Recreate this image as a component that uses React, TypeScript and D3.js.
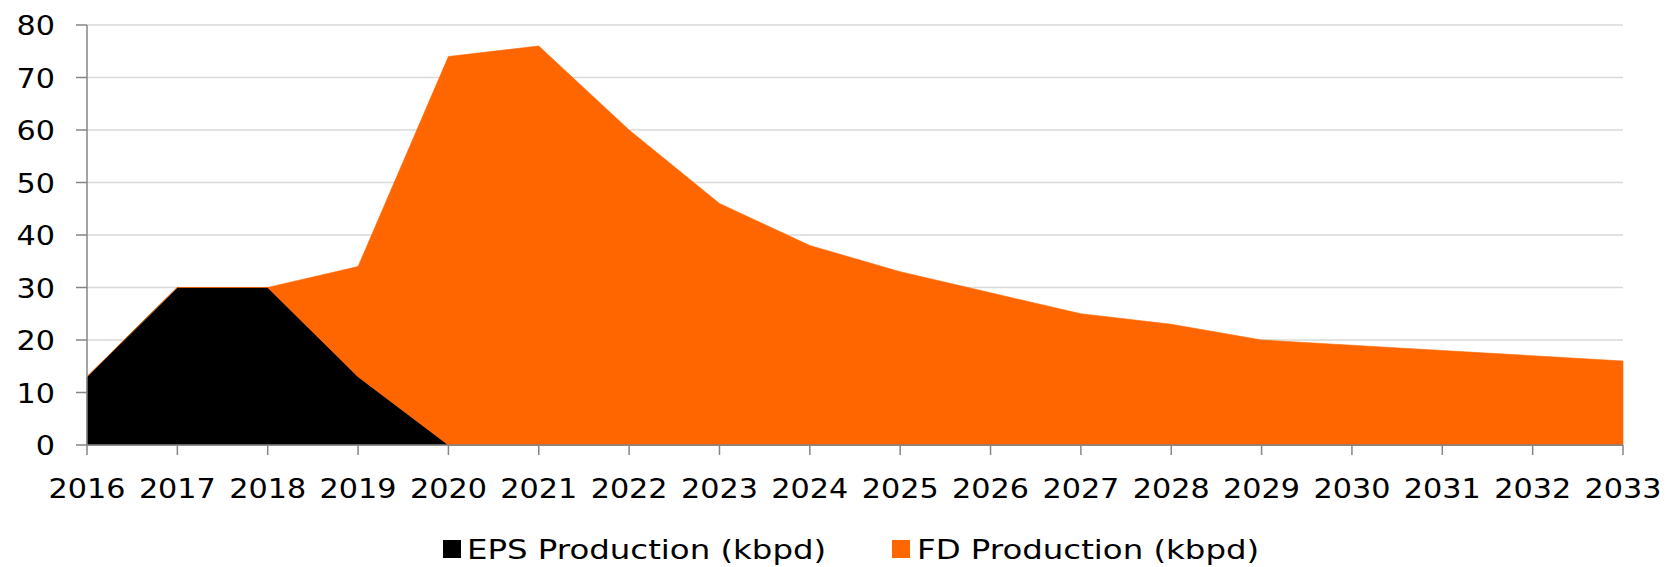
import React from "react";
import * as d3 from "d3";

const years = [2016, 2017, 2018, 2019, 2020, 2021, 2022, 2023, 2024, 2025, 2026, 2027, 2028, 2029, 2030, 2031, 2032, 2033];
const epsProduction = [13, 30, 30, 13, 0, 0, 0, 0, 0, 0, 0, 0, 0, 0, 0, 0, 0, 0];
const fdProduction = [0, 0, 0, 21, 74, 76, 60, 46, 38, 33, 29, 25, 23, 20, 19, 18, 17, 16];
const yTicks = [0, 10, 20, 30, 40, 50, 60, 70, 80];
const seriesNames = ["EPS Production (kbpd)", "FD Production (kbpd)"];
const seriesColors = ["#000000", "#FF6600"];

const W = 1667;
const H = 567;
const left = 87;
const right = 1623;
const top = 25;
const bottom = 445;
const font = "'DejaVu Sans', Verdana, sans-serif";
const sx = 1.12; // text in the source looks a bit wider than DejaVu

const App = () => {
    const rows = years.map((y, i) => ({year: y, eps: epsProduction[i], fd: fdProduction[i]}));
    const stacked = d3.stack<any>().keys(["eps", "fd"])(rows);

    const x = d3.scaleLinear().domain([years[0], years[years.length - 1]]).range([left, right]);
    const y = d3.scaleLinear().domain([0, 80]).range([bottom, top]);

    const area = d3.area<any>()
        .x(d => x(d.data.year))
        .y0(d => y(d[0]))
        .y1(d => y(d[1]));

    // legend layout
    const legend = [
        {sq: 443, tx: 467},
        {sq: 892, tx: 917},
    ];

    return (
        <div style={{position: "absolute", left: 0, top: 0}}>
            <svg width={W} height={H} style={{display: "block", background: "#fff"}}>
                {/* gridlines */}
                {yTicks.filter(t => t > 0).map(t => (
                    <line key={"g" + t} x1={left} x2={right} y1={y(t)} y2={y(t)} stroke="#d9d9d9" strokeWidth={1.5} />
                ))}

                {/* areas */}
                {stacked.map((s, i) => (
                    <path key={s.key} d={area(s) || ""} fill={seriesColors[i]} stroke={seriesColors[i]} strokeWidth={0.6} />
                ))}

                {/* y axis */}
                <line x1={left} x2={left} y1={top} y2={bottom} stroke="#868686" strokeWidth={1.5} />
                {yTicks.map(t => (
                    <g key={"y" + t}>
                        <line x1={left - 11} x2={left} y1={y(t)} y2={y(t)} stroke="#868686" strokeWidth={1.5} />
                        <text transform={`translate(55, ${y(t) + 10}) scale(${sx}, 1)`} textAnchor="end"
                              fontFamily={font} fontSize={27} fill="#000">{t}</text>
                    </g>
                ))}

                {/* x axis */}
                <line x1={left} x2={right} y1={bottom} y2={bottom} stroke="#868686" strokeWidth={1.5} />
                {years.map(yr => (
                    <g key={"x" + yr}>
                        <line x1={x(yr)} x2={x(yr)} y1={bottom} y2={bottom + 10} stroke="#868686" strokeWidth={1.5} />
                        <text transform={`translate(${x(yr)}, 498) scale(${sx}, 1)`} textAnchor="middle"
                              fontFamily={font} fontSize={27} fill="#000">{yr}</text>
                    </g>
                ))}

                {/* legend */}
                {seriesNames.map((n, i) => (
                    <g key={n}>
                        <rect x={legend[i].sq} y={540} width={18} height={18} fill={seriesColors[i]} />
                        <text transform={`translate(${legend[i].tx}, 559) scale(1.2, 1)`}
                              fontFamily={font} fontSize={27} fill="#000">{n}</text>
                    </g>
                ))}
            </svg>
        </div>
    );
};

export default App;
